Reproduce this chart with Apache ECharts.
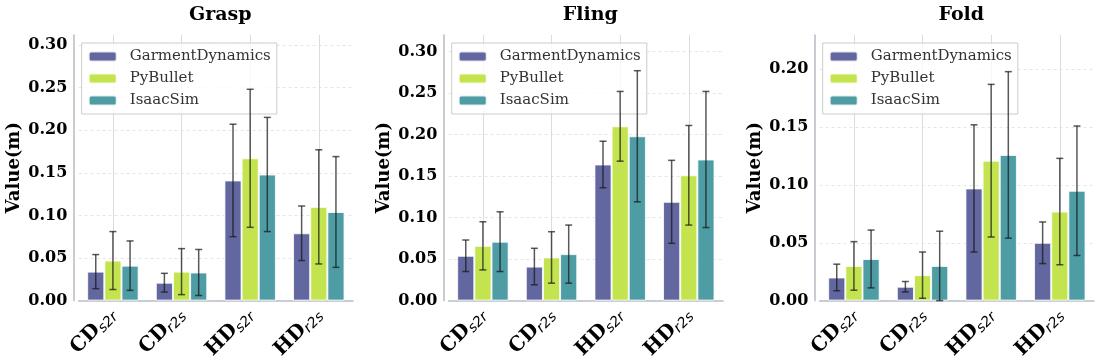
<!DOCTYPE html>
<html>
<head>
<meta charset="utf-8">
<script src="https://cdn.jsdelivr.net/npm/echarts@6/dist/echarts.min.js"></script>
<style>
  html, body { margin: 0; padding: 0; background: #fff; }
  #main { width: 1105px; height: 363px; }
</style>
</head>
<body>
<div id="main"></div>
<script>
var categories = ['CD_s2r', 'CD_r2s', 'HD_s2r', 'HD_r2s'];
var methods = ['GarmentDynamics', 'PyBullet', 'IsaacSim'];
var colors = ['#5a5f9b', '#c0e345', '#45979f'];
var panelTitles = ['Grasp', 'Fling', 'Fold'];

// mean values, one row per method
var graspMean = [
    [0.034, 0.021, 0.141, 0.079],
    [0.047, 0.034, 0.167, 0.110],
    [0.041, 0.033, 0.148, 0.104]
];
var graspErr = [
    [0.020, 0.011, 0.066, 0.032],
    [0.034, 0.027, 0.081, 0.067],
    [0.029, 0.027, 0.067, 0.065]
];
var flingMean = [
    [0.054, 0.041, 0.164, 0.119],
    [0.066, 0.052, 0.210, 0.151],
    [0.071, 0.056, 0.198, 0.170]
];
var flingErr = [
    [0.019, 0.022, 0.028, 0.050],
    [0.029, 0.031, 0.042, 0.060],
    [0.036, 0.035, 0.079, 0.082]
];
var foldMean = [
    [0.020, 0.012, 0.097, 0.050],
    [0.030, 0.022, 0.121, 0.077],
    [0.036, 0.030, 0.126, 0.095]
];
var foldErr = [
    [0.0115, 0.0045, 0.055, 0.018],
    [0.021, 0.020, 0.066, 0.046],
    [0.025, 0.030, 0.072, 0.056]
];
var yMax = [0.3117, 0.320, 0.2297];

var means = [graspMean, flingMean, foldMean];
var errs = [graspErr, flingErr, foldErr];

var chart = echarts.init(document.getElementById('main'));

var axisLeft = [73.3, 443.3, 814.3];
var shift = 5.3;
var gridW = 274.5;

var grids = [], xAxes = [], yAxes = [], titles = [], legends = [], series = [];

for (var p = 0; p < 3; p++) {
    grids.push({
        left: axisLeft[p] + shift,
        width: gridW,
        top: 35,
        height: 266
    });
    titles.push({
        text: panelTitles[p],
        left: axisLeft[p] + 142,
        top: 1,
        textAlign: 'center',
        textStyle: {
            fontFamily: 'DejaVu Serif',
            fontWeight: 'bold',
            fontSize: 19,
            color: '#000'
        }
    });
    xAxes.push({
        type: 'category',
        gridIndex: p,
        data: categories,
        axisLine: { lineStyle: { color: '#b9c0c8', width: 1.6 } },
        axisTick: { show: false },
        splitLine: { show: true, alignWithLabel: true, lineStyle: { color: '#dcdcdc', width: 1 } },
        axisLabel: {
            interval: 0,
            rotate: 45,
            margin: 11,
            formatter: function (v) {
                var parts = v.split('_');
                return '{a|' + parts[0] + '}{b|' + parts[1] + '}';
            },
            rich: {
                a: { fontFamily: 'DejaVu Serif', fontWeight: 'bold', fontSize: 20, color: '#000' },
                b: { fontFamily: 'DejaVu Sans', fontStyle: 'italic', fontSize: 14, color: '#000', padding: [9, 0, 0, 0] }
            }
        }
    });
    yAxes.push({
        type: 'value',
        gridIndex: p,
        min: 0,
        max: yMax[p],
        interval: 0.05,
        offset: shift,
        name: 'Value(m)',
        nameLocation: 'middle',
        nameGap: 50,
        nameTextStyle: { fontFamily: 'DejaVu Serif', fontWeight: 'bold', fontSize: 18, color: '#000' },
        axisLine: { show: true, lineStyle: { color: '#b9c0c8', width: 1.6 } },
        axisTick: { show: false },
        axisLabel: {
            showMaxLabel: false,
            margin: 6,
            fontFamily: 'DejaVu Serif',
            fontWeight: 'bold',
            fontSize: 16,
            color: '#000',
            formatter: function (v) { return v.toFixed(2); }
        },
        splitLine: { show: true, showMaxLine: false, lineStyle: { color: '#e6e6e6', type: [3, 3], width: 1 } }
    });
    legends.push({
        data: methods,
        orient: 'vertical',
        left: axisLeft[p] + 8.4,
        top: 43,
        itemWidth: 28,
        itemHeight: 10,
        itemGap: 7,
        padding: [6, 6, 6, 6],
        borderColor: '#cccccc',
        borderWidth: 1,
        borderRadius: 0,
        backgroundColor: 'rgba(255,255,255,0.8)',
        selectedMode: false,
        textStyle: { fontFamily: 'DejaVu Serif', fontSize: 15, color: '#333', padding: [0, 0, 0, 8] }
    });

    for (var s = 0; s < 3; s++) {
        series.push({
            name: methods[s],
            type: 'bar',
            xAxisIndex: p,
            yAxisIndex: p,
            barWidth: '25%',
            barGap: '0%',
            itemStyle: { color: colors[s], opacity: 0.95, borderColor: 'rgba(255,255,255,0.85)', borderWidth: 1 },
            data: means[p][s]
        });
    }
    for (var s2 = 0; s2 < 3; s2++) {
        var d = [];
        for (var c = 0; c < categories.length; c++) {
            d.push([c, means[p][s2][c], errs[p][s2][c]]);
        }
        series.push({
            type: 'custom',
            xAxisIndex: p,
            yAxisIndex: p,
            silent: true,
            z: 5,
            data: d,
            encode: { x: 0, y: 1 },
            renderItem: (function (si) {
                return function (params, api) {
                    var ci = api.value(0), m = api.value(1), e = api.value(2);
                    var band = api.size([1, 0])[0];
                    var x = api.coord([ci, 0])[0] + (si - 1) * band * 0.25;
                    var yt = api.coord([ci, m + e])[1];
                    var yb = api.coord([ci, m - e])[1];
                    var st = { stroke: 'rgba(25,25,25,0.72)', lineWidth: 1.5 };
                    return {
                        type: 'group',
                        children: [
                            { type: 'line', shape: { x1: x, y1: yt, x2: x, y2: yb }, style: st },
                            { type: 'line', shape: { x1: x - 3.5, y1: yt, x2: x + 3.5, y2: yt }, style: st },
                            { type: 'line', shape: { x1: x - 3.5, y1: yb, x2: x + 3.5, y2: yb }, style: st }
                        ]
                    };
                };
            })(s2)
        });
    }
}

chart.setOption({
    backgroundColor: '#fff',
    animation: false,
    title: titles,
    legend: legends,
    grid: grids,
    xAxis: xAxes,
    yAxis: yAxes,
    series: series
});
</script>
</body>
</html>
